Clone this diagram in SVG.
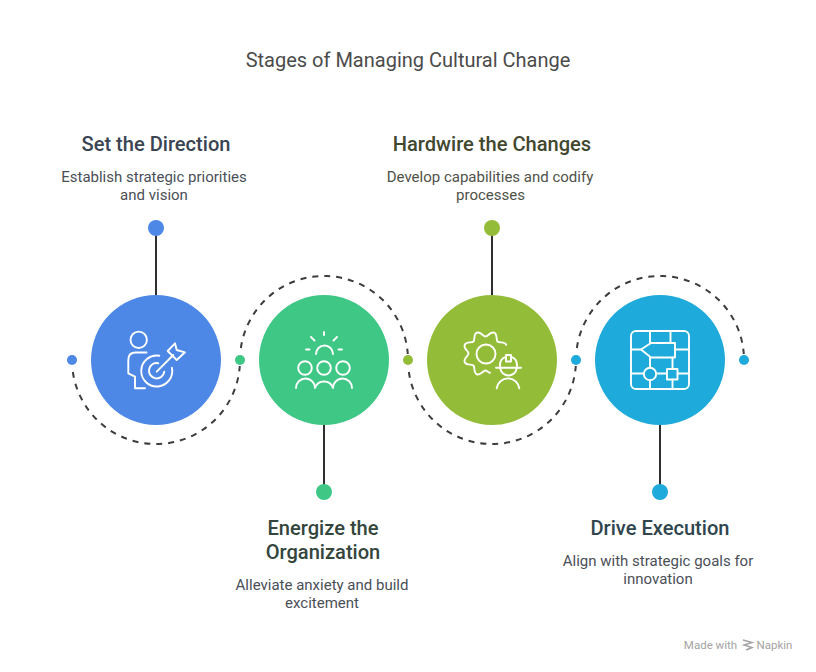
<svg xmlns="http://www.w3.org/2000/svg" width="816" height="672" viewBox="0 0 816 672">
<style>
text{font-family:Roboto,"Liberation Sans",sans-serif;text-anchor:middle}
.title{font-size:20px;fill:#4b4b4b}
.h{font-size:20.1px;font-weight:500}
.d{font-size:15px}
.arc{fill:none;stroke:#3d3d3d;stroke-width:2;stroke-dasharray:6 6}
.stem{stroke:#2f2f2f;stroke-width:2;fill:none}
.ic{fill:none;stroke:#fff;stroke-width:1.9;stroke-linecap:round;stroke-linejoin:round}
</style>
<rect width="816" height="672" fill="#fff"/>
<text class="title" x="408" y="67">Stages of Managing Cultural Change</text>
<g id="connectors">
<path class="arc" d="M72.860 372A84 84 0 0 0 239.790 366"/>
<path class="arc" d="M240.860 348A84 84 0 0 1 407.790 354"/>
<path class="arc" d="M408.860 372A84 84 0 0 0 575.790 366"/>
<path class="arc" d="M576.860 348A84 84 0 0 1 743.790 354"/>
<path class="stem" d="M156 228V296M324 424V492M492 228V296M660 424V492"/>
</g>
<g id="node-1">
<circle cx="72" cy="360" r="5" fill="#4e88e7"/>
<circle cx="156" cy="228" r="8" fill="#4e88e7"/>
<circle cx="156" cy="360" r="65" fill="#4e88e7"/>
<g class="ic">
<circle cx="138.700" cy="339.800" r="8.200"/>
<path d="M146.500 352.500H135.500Q128.300 352.500 128.300 360V373.300L135 376.700V388.300H145"/>
<path d="M171.900 367.700A15.500 15.500 0 1 1 159.300 355.700"/>
<path d="M164.300 371.700A7.700 7.700 0 1 1 158.300 363.200"/>
<path d="M156.700 371.700L173.300 355"/>
<path d="M167.700 351L175 343.300L176.700 350L185 352.300L176.700 360Z"/>
</g>
<text class="h" x="156" y="151" fill="#3a4453">Set the Direction</text>
<text class="d" fill="#4a4f57"><tspan x="154" y="182">Establish strategic priorities</tspan><tspan x="154" y="200">and vision</tspan></text>
</g>
<g id="node-2">
<circle cx="240" cy="360" r="5" fill="#3ec785"/>
<circle cx="324" cy="492" r="8" fill="#3ec785"/>
<circle cx="324" cy="360" r="65" fill="#3ec785"/>
<g class="ic">
<path d="M316 354A8.500 8.500 0 1 1 333 354"/>
<path d="M324 332V335M311 337L314.500 340.500M337 337L333.500 340.500M306 349.500H309.500M338.500 349.500H342"/>
<circle cx="305" cy="368" r="6.800"/><circle cx="324" cy="368" r="6.800"/><circle cx="343" cy="368" r="6.800"/>
<path d="M296 388A9.500 9.500 0 0 1 315 388A9.500 9.500 0 0 1 333 388A9.500 9.500 0 0 1 352 388"/>
</g>
<text class="h" fill="#33453d"><tspan x="323" y="535">Energize the</tspan><tspan x="323" y="559">Organization</tspan></text>
<text class="d" fill="#4a4f57"><tspan x="322" y="590">Alleviate anxiety and build</tspan><tspan x="322" y="608">excitement</tspan></text>
</g>
<g id="node-3">
<circle cx="408" cy="360" r="5" fill="#93bc39"/>
<circle cx="492" cy="228" r="8" fill="#93bc39"/>
<circle cx="492" cy="360" r="65" fill="#93bc39"/>
<g class="ic">
<circle cx="486" cy="354" r="9.500"/>
<path d="M506.290 344.890C504.760 341.200 499.290 343.250 497.520 341.480C495.750 339.710 497.810 334.240 494.110 332.710C490.410 331.180 488 336.500 485.500 336.500C483 336.500 480.590 331.180 476.890 332.710C473.190 334.240 475.250 339.710 473.480 341.480C471.710 343.250 466.240 341.190 464.710 344.890C463.180 348.590 468.500 351 468.500 353.500C468.500 356 463.180 358.410 464.710 362.110C466.240 365.810 471.710 363.750 473.480 365.520C475.250 367.290 473.190 372.760 476.890 374.290C480.590 375.820 483 370.500 485.500 370.500C487 370.500 488 372.500 490 372.700"/>
<path d="M496 367.700H521"/>
<path d="M500 367.700V365A8.500 8.500 0 0 1 506 356.800M511 356.800A8.500 8.500 0 0 1 517 365V367.700"/>
<path d="M506 361.500V355H511V361.500Z"/>
<path d="M500.300 368.500A8.300 8.300 0 0 0 516.700 368.500"/>
<path d="M496.700 388.300A11.400 11.400 0 0 1 519.300 388.300"/>
</g>
<text class="h" x="492" y="151" fill="#42472f">Hardwire the Changes</text>
<text class="d" fill="#4f5248"><tspan x="490" y="182">Develop capabilities and codify</tspan><tspan x="490.500" y="200">processes</tspan></text>
</g>
<g id="node-4">
<circle cx="576" cy="360" r="5" fill="#1eaadb"/>
<circle cx="744" cy="360" r="5" fill="#1eaadb"/>
<circle cx="660" cy="492" r="8" fill="#1eaadb"/>
<circle cx="660" cy="360" r="65" fill="#1eaadb"/>
<g class="ic">
<rect x="631" y="331" width="58" height="58" rx="5"/>
<path d="M641 349.500L651 343H675V357.500H651Z"/>
<path d="M650 331V343M670.500 331V343M631 349.500H641M675 349.500H689M672.500 357.500V369M631 373.500H644M656 373.500H667M677.500 373.500H689M650 380V389M672.500 379.500V389M650 357.500V367.500"/>
<circle cx="650" cy="374" r="6.200"/>
<rect x="667" y="369" width="10.500" height="10.500"/>
</g>
<text class="h" x="660" y="535" fill="#30454d">Drive Execution</text>
<text class="d" fill="#4a4f57"><tspan x="658" y="566">Align with strategic goals for</tspan><tspan x="658" y="584">innovation</tspan></text>
</g>
<g id="watermark">
<text x="710.500" y="649" style="font-size:11.500px;fill:#a3a3a3">Made with</text>
<path d="M743 640L752 642.500L744 645L752 647.500L746 650" fill="none" stroke="#a3a3a3" stroke-width="1.500"/>
<text x="774.500" y="649" style="font-size:11.500px;fill:#a3a3a3">Napkin</text>
</g>
</svg>
